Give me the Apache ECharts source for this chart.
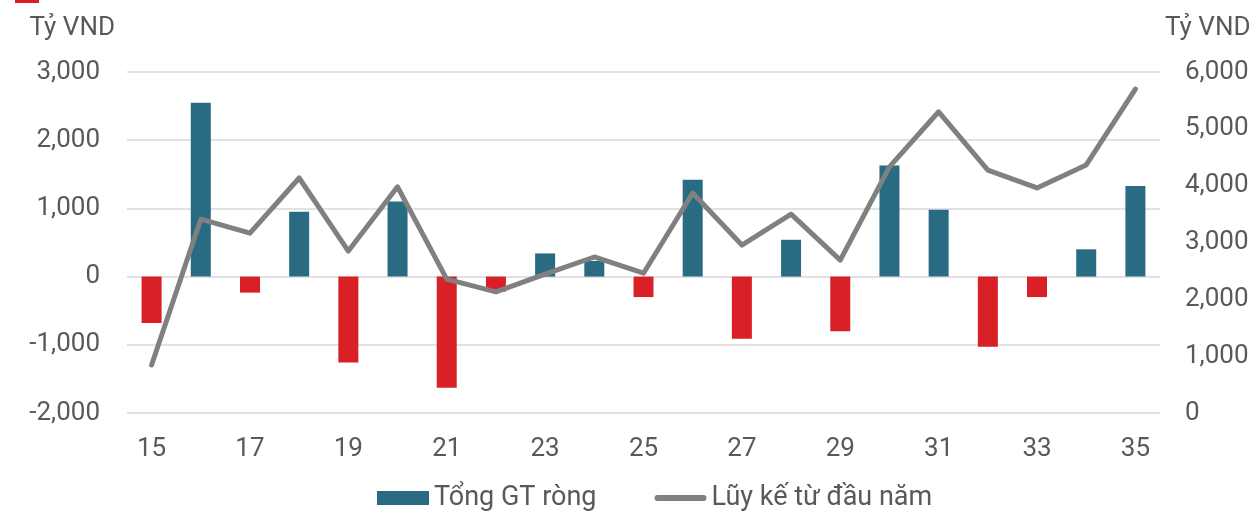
<!DOCTYPE html>
<html><head><meta charset="utf-8">
<script src="https://cdn.jsdelivr.net/npm/echarts@6/dist/echarts.min.js"></script>
<style>html,body{margin:0;padding:0;background:#fff}#c{width:1260px;height:511px}</style>
</head><body><div id="c"></div>
<script>
const weeks = ['15','16','17','18','19','20','21','22','23','24','25','26','27','28','29','30','31','32','33','34','35'];
const netValue = [-680, 2550, -235, 950, -1260, 1100, -1630, -220, 340, 230, -300, 1420, -910, 540, -800, 1630, 980, -1030, -300, 400, 1330];
const cumulative = [845, 3410, 3165, 4135, 2850, 3980, 2355, 2130, 2445, 2745, 2460, 3870, 2955, 3500, 2690, 4330, 5300, 4275, 3960, 4365, 5700];
const leftTicks = {min: -2000, max: 3000, interval: 1000};
const rightTicks = {min: 0, max: 6000, interval: 1000};
const unitName = 'Tỷ VND';
const barName = 'Tổng GT ròng';
const lineName = 'Lũy kế từ đầu năm';

const TEAL = '#286B83', RED = '#D92027', GREY = '#808080', TXT = '#595959';
const FONT = 'Roboto';
const FS = 26;
const fmt = v => v.toLocaleString('en-US');

const chart = echarts.init(document.getElementById('c'), null, {renderer: 'canvas'});
chart.setOption({
  animation: false,
  textStyle: {fontFamily: FONT, color: TXT},
  grid: {left: 127, right: 100, top: 72, bottom: 98, containLabel: false},
  legend: {
    top: 484, left: 377, padding: 0, itemGap: 58, itemWidth: 52, itemHeight: 14,
    textStyle: {fontFamily: FONT, fontSize: 27, lineHeight: 28, color: TXT},
    data: [
      {name: barName, icon: 'rect', itemStyle: {color: TEAL}},
      {name: lineName, icon: 'path://M0,0M52,14M3,4H49A3,3 0 0 1 49,10H3A3,3 0 0 1 3,4Z', itemStyle: {color: GREY}}
    ]
  },
  graphic: [{type: 'rect', left: 15, top: 0, shape: {width: 24, height: 3}, style: {fill: RED}}],
  xAxis: {
    type: 'category', data: weeks,
    axisLine: {show: false}, axisTick: {show: false},
    axisLabel: {interval: 1, fontSize: FS, color: TXT, margin: 23, fontFamily: FONT}
  },
  yAxis: [{
    type: 'value', min: leftTicks.min, max: leftTicks.max, interval: leftTicks.interval,
    name: unitName, nameLocation: 'end', nameGap: 31,
    nameTextStyle: {fontSize: FS, color: TXT, align: 'right', padding: [0, 12, 0, 0], fontFamily: FONT},
    axisLine: {show: false}, axisTick: {show: false},
    axisLabel: {fontSize: FS, color: TXT, margin: 27, formatter: fmt, fontFamily: FONT},
    splitLine: {lineStyle: {color: '#D9D9D9', width: 1.5}}
  }, {
    type: 'value', min: rightTicks.min, max: rightTicks.max, interval: rightTicks.interval,
    name: unitName, nameLocation: 'end', nameGap: 31,
    nameTextStyle: {fontSize: FS, color: TXT, align: 'left', padding: [0, 0, 0, 5], fontFamily: FONT},
    axisLine: {show: false}, axisTick: {show: false},
    axisLabel: {fontSize: FS, color: TXT, margin: 25, formatter: fmt, fontFamily: FONT},
    splitLine: {show: false}
  }],
  series: [{
    name: barName, type: 'bar', yAxisIndex: 0, barWidth: 20,
    data: netValue.map(v => ({value: v, itemStyle: {color: v < 0 ? RED : TEAL}})),
    itemStyle: {color: TEAL}
  }, {
    name: lineName, type: 'line', yAxisIndex: 1, data: cumulative,
    symbol: 'none', lineStyle: {color: GREY, width: 5, cap: 'round', join: 'round'}, itemStyle: {color: GREY}
  }]
});
</script></body></html>
